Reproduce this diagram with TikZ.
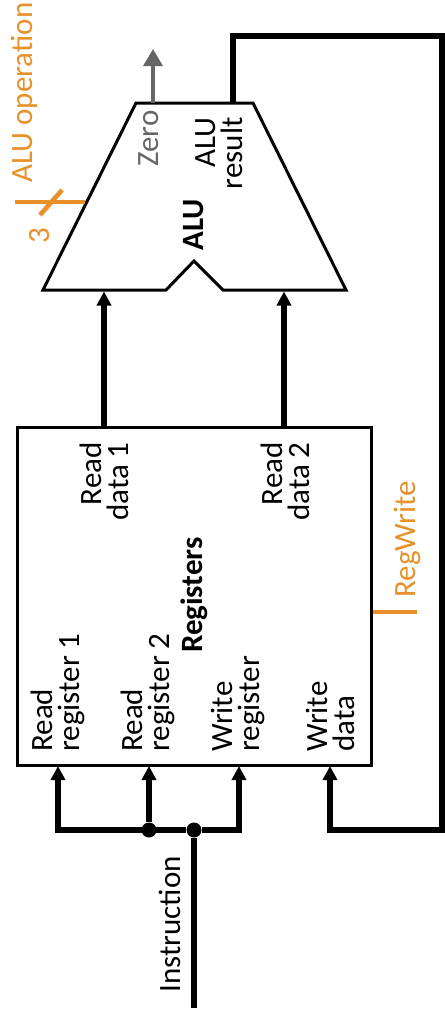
\documentclass[tikz,border=0pt]{standalone}
\usepackage{fontspec}
\setmainfont{Carlito}
\usetikzlibrary{arrows.meta,positioning}
\definecolor{ctrl}{RGB}{232,145,42}
\definecolor{zerogray}{RGB}{102,102,102}

\begin{document}
\begin{tikzpicture}[x=0.5pt, y=-0.5pt]
    \tikzset{>={Triangle[width=7pt,length=7pt]}}
    % Styles for the rotated datapath
    \tikzstyle{lbl}     = [font=\fontsize{15.5}{13.5}\selectfont, rotate=90, inner sep=0pt]
    \tikzstyle{title}   = [lbl, font=\fontsize{15.5}{13.5}\selectfont\bfseries]
    \tikzstyle{unit}    = [rectangle, draw=black, line width=1.5pt, minimum width=177pt, minimum height=169pt]
    \tikzstyle{bus}     = [line width=3pt]
    \tikzstyle{arrow}   = [bus, ->]
    \tikzstyle{control} = [line width=2.3pt, ctrl]
    \tikzstyle{dot}     = [circle, fill=black, minimum size=7.5pt, inner sep=0pt]

    \useasboundingbox (0,0) rectangle (445,1019);

    % ALU with its notch
    \draw[line width=1.5pt] (136,103) -- (253,103) -- (346,290) -- (223,290) -- (194,261) -- (166,290) -- (43,290) -- cycle;
    \node[title] (alu) at (194,225) {ALU};
    \coordinate (alu-in1)  at (104,291.5);
    \coordinate (alu-in2)  at (284,291.5);
    \coordinate (alu-zero) at (153,103);
    \coordinate (alu-res)  at (233,103);
    \coordinate (alu-op)   at (85,202);
    \coordinate (zero-end) at (153,49);
    \coordinate (op-start) at (15,202);
    \coordinate (op-width) at (51,202);
    \coordinate (fb-top)   at (442,35.5);
    \coordinate (fb-bot)   at (442,830);

    % Draw a rectangle node
    \node[unit] (regs) at (194,596) {};
    \node[title] (regs-title) at (194,595) {Registers};
    \coordinate (in-rr1) at (58,766);
    \coordinate (in-rr2) at (149,766);
    \coordinate (in-wr)  at (239,766);
    \coordinate (in-wd)  at (330,766);
    \coordinate (out-rd1) at (104,427);
    \coordinate (out-rd2) at (284,427);
    \coordinate (rw-end) at (417,612);
    \coordinate (rw-start) at (373,612);
    \coordinate (ins-start) at (194,1008);
    \node[dot] (jA) at (149,830) {};
    \node[dot] (jB) at (194,830) {};

    \node[lbl, zerogray, anchor=east] (zero) at (149,110) {Zero};
    \node[lbl, align=right, anchor=east] (res) at (219,117) {ALU\\result};
    \node[lbl, ctrl, anchor=west] (aluop) at (24,183) {ALU operation};
    \node[lbl, ctrl] (opbits) at (40,236) {3};
    \node[lbl, align=right, anchor=east] (rd1) at (104,442) {Read\\data 1};
    \node[lbl, align=right, anchor=east] (rd2) at (285,442) {Read\\data 2};
    \node[lbl, align=left, anchor=west] (rr1) at (58,752) {Read\\register 1};
    \node[lbl, align=left, anchor=west] (rr2) at (148,752) {Read\\register 2};
    \node[lbl, align=left, anchor=west] (wr) at (238,752) {Write\\register};
    \node[lbl, align=left, anchor=west] (wd) at (330,752) {Write\\data};
    \node[lbl, ctrl, anchor=west] (regwrite) at (407,598) {RegWrite};
    \node[lbl, anchor=west] (instr) at (170,993) {Instruction};

    \draw[arrow] (out-rd1) -- (alu-in1);
    \draw[arrow] (out-rd2) -- (alu-in2);
    \draw[line width=1.7pt, zerogray, -{Triangle[width=9.5pt,length=8.5pt]}] (alu-zero) -- (zero-end);
    \draw[arrow] (alu-res) |- (fb-top) -- (fb-bot) -| (in-wd);

    \draw[bus] (ins-start) -- (jB);
    \draw[arrow] (jB) -| (in-rr1);
    \draw[arrow] (jB) -| (in-wr);
    \draw[arrow] (jA) -- (in-rr2);

    \draw[control] (op-start) -- (alu-op);
    \draw[control] ([shift={(-11,13)}]op-width) -- ([shift={(11,-12)}]op-width);
    \draw[control] (rw-start) -- (rw-end);
  \end{tikzpicture}
\end{document}
